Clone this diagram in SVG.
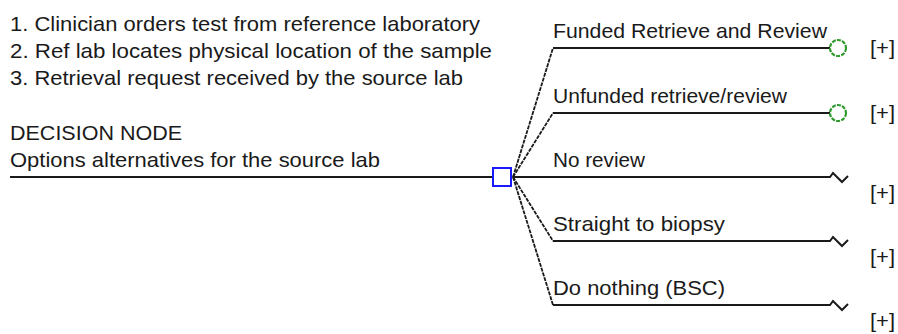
<svg xmlns="http://www.w3.org/2000/svg" width="898" height="334" viewBox="0 0 898 334">
<style>
text{font-family:"Liberation Sans",Arial,sans-serif;font-size:21px;fill:#1a1a1a}
.ln{fill:none;stroke:#1a1a1a;stroke-width:2}
.dl{fill:none;stroke:#1a1a1a;stroke-width:1.8;stroke-dasharray:4 1}
.ch{fill:#fff;stroke:#2e9a2e;stroke-width:2.2;stroke-dasharray:4 1.2}
.dec{fill:#fff;stroke:#1a1aff;stroke-width:2}
</style>
<rect width="898" height="334" fill="#fff"/>
<g id="notes">
<text x="10" y="31" textLength="470" lengthAdjust="spacingAndGlyphs">1. Clinician orders test from reference laboratory</text>
<text x="10" y="58" textLength="482" lengthAdjust="spacingAndGlyphs">2. Ref lab locates physical location of the sample</text>
<text x="10" y="85" textLength="453" lengthAdjust="spacingAndGlyphs">3. Retrieval request received by the source lab</text>
<text x="10" y="140" textLength="172" lengthAdjust="spacingAndGlyphs">DECISION NODE</text>
<text x="10" y="167" textLength="370" lengthAdjust="spacingAndGlyphs">Options alternatives for the source lab</text>
</g>
<g id="connectors">
<line class="ln" x1="10" y1="177" x2="493" y2="177"/>
<polyline class="dl" points="513,177 553,48"/>
<polyline class="dl" points="513,177 553,113"/>
<polyline class="ln" points="513,177 830,177 833,173 842,182 848,176"/>
<polyline class="dl" points="513,177 553,241"/>
<polyline class="dl" points="513,177 553,305"/>
<polyline class="ln" points="553,48 830,48"/>
<polyline class="ln" points="553,113 830,113"/>
<polyline class="ln" points="553,241 830,241 833,237 842,246 848,240"/>
<polyline class="ln" points="553,305 830,305 833,301 842,310 848,304"/>
</g>
<g id="decision"><rect class="dec" x="493" y="168" width="18" height="18"/></g>
<g id="b1"><text x="553" y="38" textLength="274" lengthAdjust="spacingAndGlyphs">Funded Retrieve and Review</text><circle class="ch" cx="838" cy="48" r="8"/><text x="870" y="55" textLength="25" lengthAdjust="spacingAndGlyphs">[+]</text></g>
<g id="b2"><text x="553" y="103" textLength="234" lengthAdjust="spacingAndGlyphs">Unfunded retrieve/review</text><circle class="ch" cx="838" cy="113" r="8"/><text x="870" y="120" textLength="25" lengthAdjust="spacingAndGlyphs">[+]</text></g>
<g id="b3"><text x="553" y="167" textLength="92" lengthAdjust="spacingAndGlyphs">No review</text><text x="870" y="200" textLength="25" lengthAdjust="spacingAndGlyphs">[+]</text></g>
<g id="b4"><text x="553" y="231" textLength="172" lengthAdjust="spacingAndGlyphs">Straight to biopsy</text><text x="870" y="264" textLength="25" lengthAdjust="spacingAndGlyphs">[+]</text></g>
<g id="b5"><text x="553" y="295" textLength="172" lengthAdjust="spacingAndGlyphs">Do nothing (BSC)</text><text x="870" y="328" textLength="25" lengthAdjust="spacingAndGlyphs">[+]</text></g>
</svg>
